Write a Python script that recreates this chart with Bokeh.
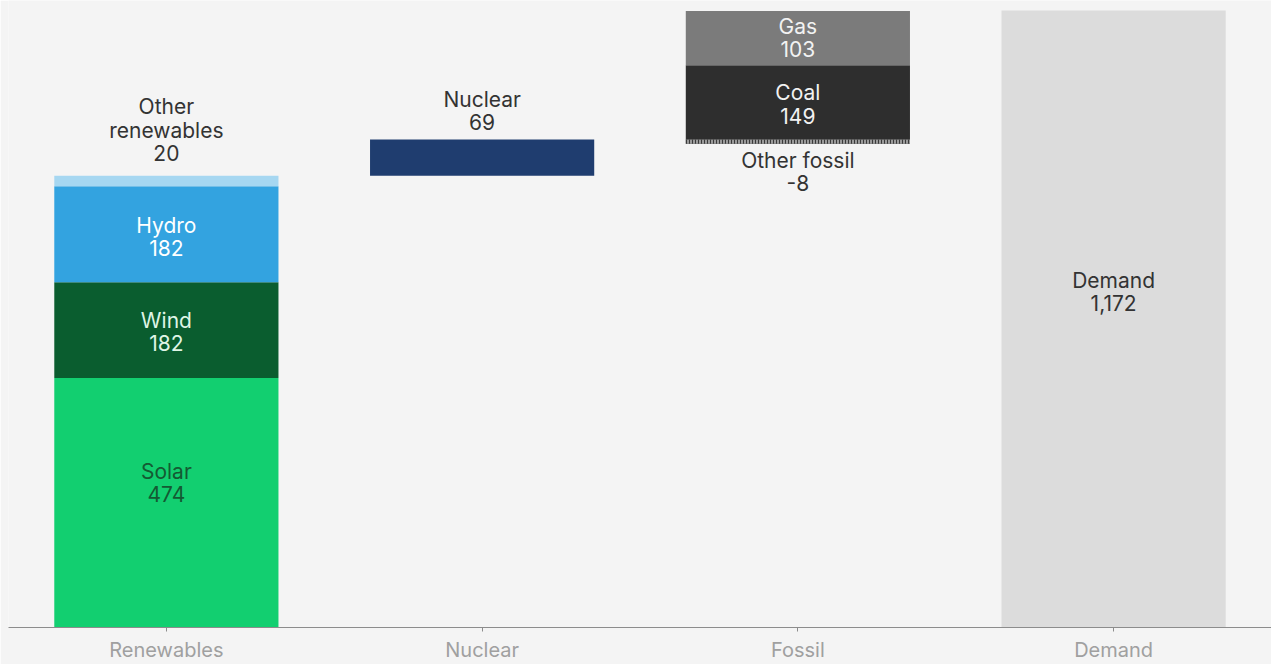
from bokeh.plotting import figure
from bokeh.models import ColumnDataSource, FactorRange, Range1d
from bokeh.core.properties import value
from bokeh.embed import file_html
from bokeh.resources import INLINE

# ---- data ----
categories = ["Renewables", "Nuclear", "Fossil", "Demand"]
segments = ["Solar", "Wind", "Hydro", "Other\nrenewables", "Nuclear",
            "Other fossil", "Coal", "Gas", "Demand"]
groups = ["Renewables", "Renewables", "Renewables", "Renewables", "Nuclear",
          "Fossil", "Fossil", "Fossil", "Demand"]
values = [474, 182, 182, 20, 69, -8, 149, 103, 1172]
is_total = [False, False, False, False, False, False, False, False, True]

# ---- styles ----
colors = ["#12cf70", "#0a5d2f", "#33a3e0", "#a6d7f1", "#1f3d6f",
          "#7d7d7d", "#2e2e2e", "#7b7b7b", "#dcdcdc"]
text_colors = ["#145a33", "#dff5e6", "#ffffff", "#333333", "#333333",
               "#333333", "#f2f2f2", "#f2f2f2", "#333333"]
placement = ["in", "in", "in", "above", "above", "below", "in", "in", "in"]
label_offsets = {"Solar": -20, "Demand": -27, "Hydro": 3, "Wind": 2,
                 "Nuclear": 6, "Other fossil": -2}

FONT = "Inter"

# waterfall bottoms/tops
bottoms, tops = [], []
running = 0
for v, tot in zip(values, is_total):
    if tot:
        bottoms.append(0)
        tops.append(v)
    else:
        lo, hi = sorted([running, running + v])
        bottoms.append(lo)
        tops.append(hi)
        running += v

p = figure(x_range=FactorRange(*categories), y_range=Range1d(0, 1191),
           width=1271, height=664, output_backend="svg", toolbar_location=None,
           y_axis_location=None, min_border_left=8, min_border_right=0,
           min_border_top=0, min_border_bottom=37)
p.background_fill_color = "#f4f4f4"
p.border_fill_color = "#f4f4f4"
p.outline_line_color = None
p.grid.grid_line_color = None

normal = [i for i in range(len(values)) if values[i] >= 0]
neg = [i for i in range(len(values)) if values[i] < 0]

src = ColumnDataSource(dict(
    x=[groups[i] for i in normal],
    bottom=[bottoms[i] for i in normal],
    top=[tops[i] for i in normal],
    color=[colors[i] for i in normal],
))
p.vbar(x="x", bottom="bottom", top="top", width=0.71, source=src,
       fill_color="color", line_color=None)

src_neg = ColumnDataSource(dict(
    x=[groups[i] for i in neg],
    bottom=[bottoms[i] for i in neg],
    top=[tops[i] for i in neg],
))
p.vbar(x="x", bottom="bottom", top="top", width=0.71, source=src_neg,
       fill_color="#9a9a9a", line_color=None, hatch_pattern="vertical_line",
       hatch_color="#3a3a3a", hatch_scale=3, hatch_weight=1)

# labels
for kind, baseline in (("in", "middle"), ("above", "bottom"), ("below", "top")):
    idx = [i for i in range(len(values)) if placement[i] == kind]
    ys, offs = [], []
    for i in idx:
        extra = label_offsets.get(segments[i], 0)
        if kind == "in":
            ys.append((bottoms[i] + tops[i]) / 2)
            offs.append(extra)
        elif kind == "above":
            ys.append(tops[i])
            offs.append(-10 + extra)
        else:
            ys.append(bottoms[i])
            offs.append(6 + extra)
    s = ColumnDataSource(dict(
        x=[groups[i] for i in idx],
        y=ys,
        yo=offs,
        t=[f"{segments[i]}\n{values[i]:,}" for i in idx],
        c=[text_colors[i] for i in idx],
    ))
    p.text(x="x", y="y", text="t", source=s, y_offset="yo",
           text_align="center", text_baseline=baseline,
           text_color="c", text_font=value(FONT), text_font_size="21px",
           text_line_height=0.93)

ax = p.xaxis[0]
ax.axis_line_color = "#8c8c8c"
ax.major_tick_line_color = "#8c8c8c"
ax.major_tick_in = 0
ax.major_tick_out = 4
ax.minor_tick_line_color = None
ax.major_label_text_color = "#a0a0a0"
ax.major_label_text_font = FONT
ax.major_label_text_font_size = "20px"
ax.major_label_standoff = 6

open("out.html", "w").write(file_html(p, INLINE))
